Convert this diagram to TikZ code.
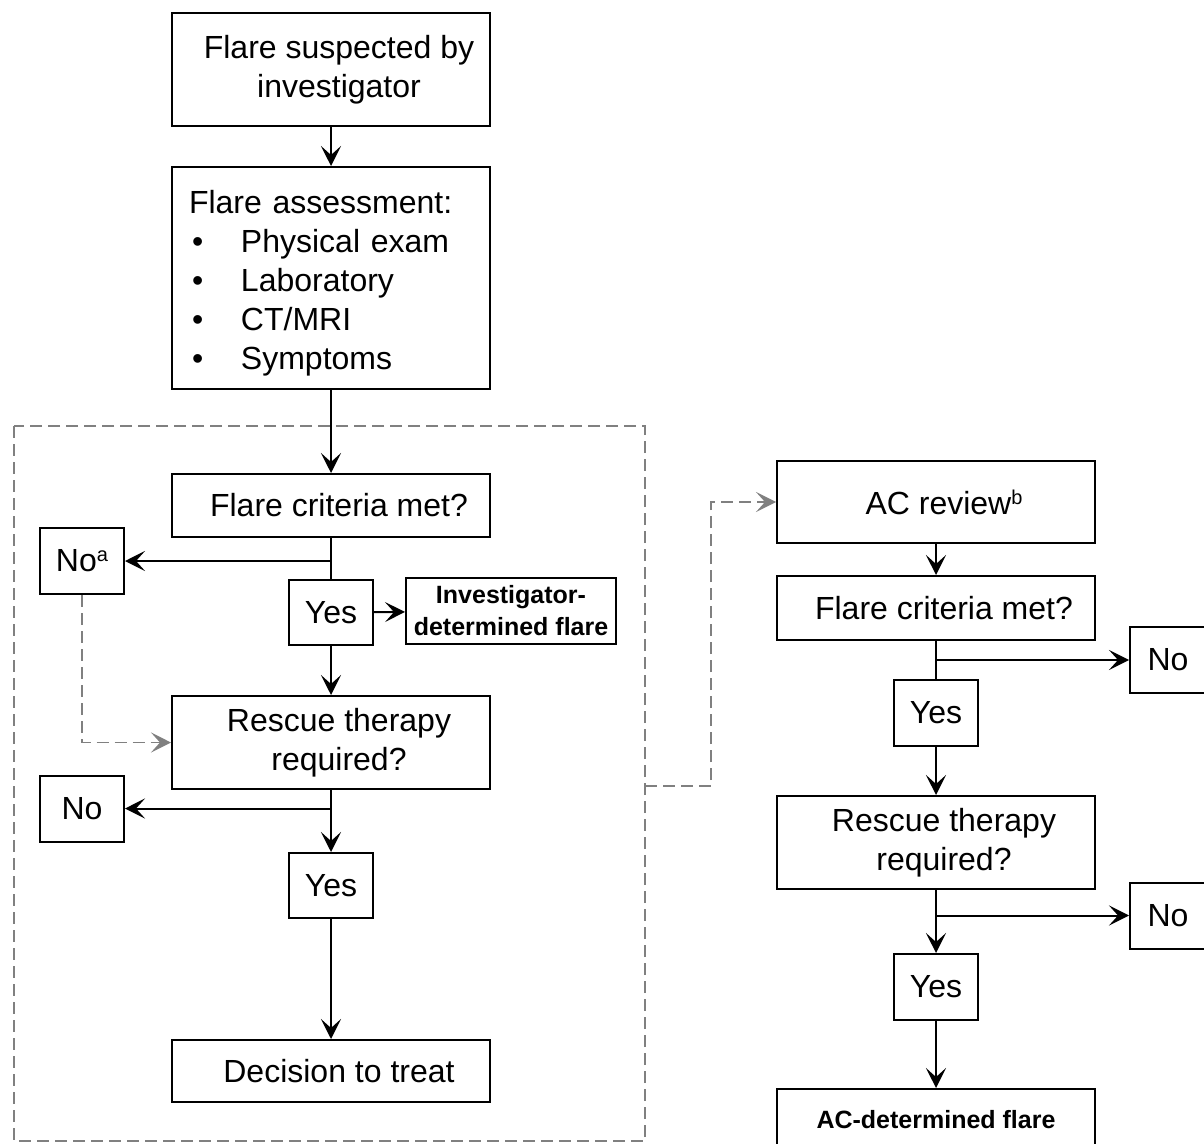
\documentclass[tikz,border=0pt]{standalone}
\usepackage{fontspec}
\setmainfont{Liberation Sans}
\usetikzlibrary{arrows.meta}
\newcommand{\padl}{\hspace*{8pt}}
\newcommand{\supmark}[1]{\raisebox{5pt}{\fontsize{10}{10}\selectfont #1}}

\begin{document}
\begin{tikzpicture}[
  x=0.5pt,y=-0.5pt,
  >={Stealth[length=10pt,width=10pt,inset=4.5pt]},
  font=\fontsize{16}{19.5}\selectfont,
  box/.style={draw,line width=1pt,minimum width=159pt,align=center,inner sep=2pt},
  tag/.style={draw,line width=1pt,minimum width=42pt,minimum height=33pt,inner sep=2pt},
  bold/.style={font=\fontsize{12.5}{16}\selectfont\bfseries},
  flow/.style={->,line width=1pt},
  link/.style={line width=1pt},
  dline/.style={->,black!50,dash pattern=on 6pt off 3pt,line width=0.8pt},
  frame/.style={black!50,dash pattern=on 6pt off 3pt,line width=0.8pt}
]
  \useasboundingbox (0,0) rectangle (1204,1144);

  % investigator side
  \node[box,minimum height=56.5pt] (susp) at (331,69.5) {\padl Flare suspected by\\\padl investigator};
  \node[box,minimum height=111pt,text width=142pt,align=left,inner xsep=8.5pt] (assess) at (331,278)
    {\rule{0pt}{17pt}Flare assessment:\\
     \makebox[26pt][l]{\hspace{1.5pt}\textbullet}Physical exam\\
     \makebox[26pt][l]{\hspace{1.5pt}\textbullet}Laboratory\\
     \makebox[26pt][l]{\hspace{1.5pt}\textbullet}CT/MRI\\
     \makebox[26pt][l]{\hspace{1.5pt}\textbullet}Symptoms};
  \node[box,minimum height=31.5pt] (critL) at (331,505.5) {\padl Flare criteria met?};
  \node[tag] (noA) at (82,561) {No\supmark{a}};
  \node[tag,minimum height=32.5pt] (yesL1) at (331,612.5) {Yes};
  \node[draw,line width=1pt,bold,align=center,minimum width=105pt,minimum height=33pt,inner sep=2pt]
    (invflare) at (511,611) {Investigator-\\determined flare};
  \node[box,minimum height=46.5pt] (rescL) at (331,742.5) {\padl Rescue therapy\\\padl required?};
  \node[tag] (noL) at (82,808.5) {No};
  \node[tag,minimum height=32.5pt] (yesL2) at (331,885.5) {Yes};
  \node[box,minimum height=31pt] (decide) at (331,1071) {\padl Decision to treat};

  \draw[frame] (14,426) rectangle (645,1141);
  \coordinate (out) at (645,786);

  \draw[flow] (susp) -- (assess);
  \draw[flow] (assess) -- (critL);
  \draw[link] (critL) -- (yesL1);
  \draw[flow] (critL.south |- noA) -- (noA);
  \draw[flow] (yesL1) -- (invflare);
  \draw[flow] (yesL1) -- (rescL);
  \draw[dline] (noA) |- (rescL);
  \draw[flow] (rescL) -- (yesL2);
  \draw[flow] (rescL.south |- noL) -- (noL);
  \draw[flow] (yesL2) -- (decide);

  % adjudication committee side
  \node[box,minimum height=41pt] (acrev) at (936,502) {\padl AC review\supmark{b}};
  \node[box,minimum height=32pt] (critR) at (936,608) {\padl Flare criteria met?};
  \node[tag,minimum width=38pt] (noR1) at (1168,660) {No};
  \node[tag] (yesR1) at (936,713) {Yes};
  \node[box,minimum height=46.5pt] (rescR) at (936,842.5) {\padl Rescue therapy\\\padl required?};
  \node[tag,minimum width=38pt] (noR2) at (1168,915.5) {No};
  \node[tag] (yesR2) at (936,987) {Yes};
  \node[box,bold,minimum height=31pt] (acflare) at (936,1120) {AC-determined flare};

  \draw[dline] (out) -- ++(66,0) |- (acrev);
  \draw[flow] (acrev) -- (critR);
  \draw[link] (critR) -- (yesR1);
  \draw[flow] (critR.south |- noR1) -- (noR1);
  \draw[flow] (yesR1) -- (rescR);
  \draw[flow] (rescR) -- (yesR2);
  \draw[flow] (rescR.south |- noR2) -- (noR2);
  \draw[flow] (yesR2) -- (acflare);
\end{tikzpicture}
\end{document}
